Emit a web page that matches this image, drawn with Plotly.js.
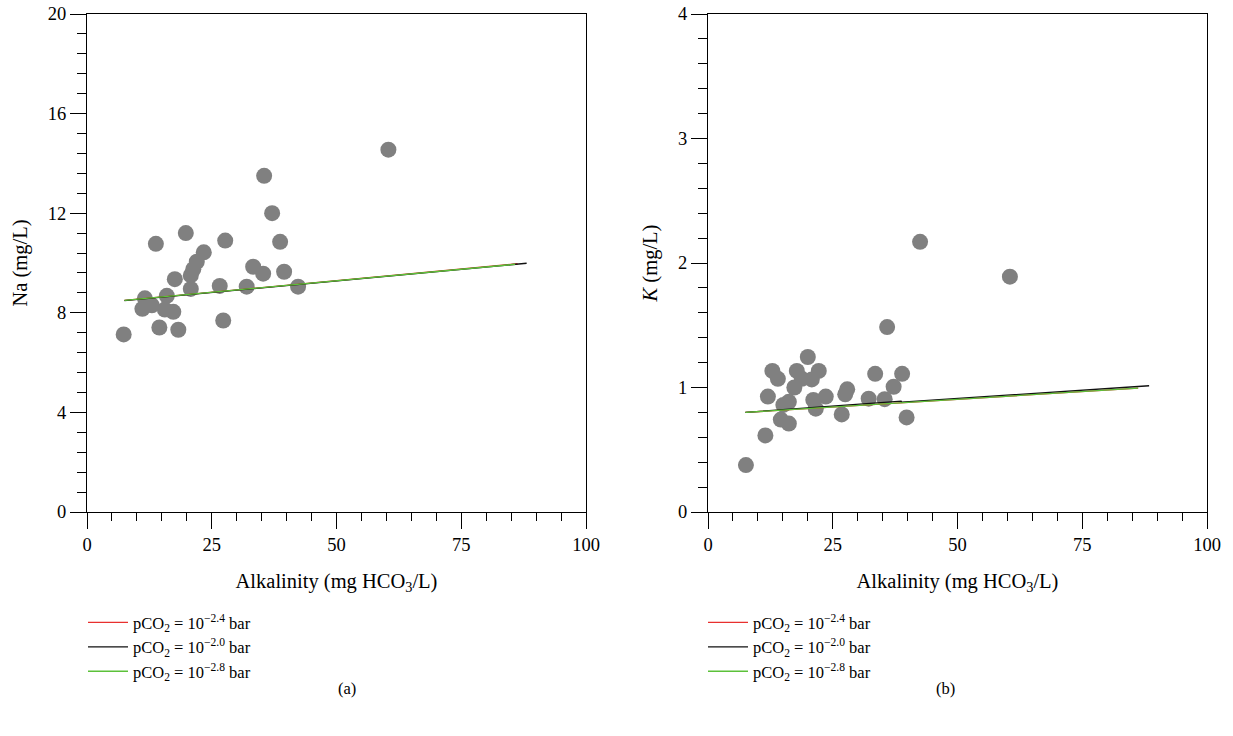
<!DOCTYPE html>
<html>
<head>
<meta charset="utf-8">
<script src="https://cdn.plot.ly/plotly-3.0.1.min.js"></script>
<style>html,body{margin:0;padding:0;background:#fff;}#chart{width:1233px;height:736px;}</style>
</head>
<body>
<div id="chart"></div>
<script>
// Panel (a): Na vs alkalinity
const naAlk = [60.4, 35.5, 37.1, 38.7, 39.5, 42.3, 33.3, 35.3, 32.0, 27.7, 26.6, 27.3, 19.8, 13.8, 23.4, 22.0, 21.3, 20.8, 17.6, 20.8, 11.6, 16.0, 11.1, 13.0, 15.6, 17.3, 14.5, 18.3, 7.35];
const naVal = [14.55, 13.5, 12.0, 10.85, 9.65, 9.05, 9.85, 9.57, 9.05, 10.9, 9.08, 7.69, 11.2, 10.77, 10.43, 10.05, 9.75, 9.5, 9.35, 8.96, 8.58, 8.68, 8.16, 8.3, 8.13, 8.04, 7.41, 7.32, 7.13];
// Panel (b): K vs alkalinity
const kAlk = [7.6, 11.5, 12.0, 12.9, 14.0, 14.6, 15.1, 16.2, 16.2, 17.3, 17.8, 18.8, 20.0, 20.8, 21.1, 21.6, 22.2, 23.6, 26.8, 27.5, 27.9, 32.2, 33.5, 35.4, 35.9, 37.2, 38.9, 39.8, 42.5, 60.5];
const kVal = [0.377, 0.615, 0.927, 1.133, 1.07, 0.742, 0.86, 0.71, 0.885, 1.0, 1.133, 1.07, 1.245, 1.065, 0.9, 0.83, 1.133, 0.927, 0.784, 0.945, 0.985, 0.91, 1.11, 0.906, 1.485, 1.006, 1.11, 0.76, 2.17, 1.89];

// Equilibrium curves, panel (a)
const naRedX = [7.5, 86.3], naRedY = [8.5, 9.97];
const naBlackX = [7.5, 88.1], naBlackY = [8.49, 9.99];
const naGreenX = [7.5, 85.8], naGreenY = [8.5, 9.95];
// Equilibrium curves, panel (b)
const kRedX = [7.5, 86.2], kRedY = [0.80, 0.995];
const kBlackX = [7.5, 38.7, 38.8, 88.4], kBlackY = [0.80, 0.89, 0.883, 1.014];
const kGreenX = [7.5, 86.2], kGreenY = [0.80, 0.995];

const legendNames = [
  'pCO<sub>2</sub> = 10<sup>−2.4</sup> bar',
  'pCO<sub>2</sub> = 10<sup>−2.0</sup> bar',
  'pCO<sub>2</sub> = 10<sup>−2.8</sup> bar'
];
const lineColors = ['#e8302e', '#111111', '#5cc13a'];
const xTicks = [0, 25, 50, 75, 100];
const naTicks = [0, 4, 8, 12, 16, 20];
const kTicks = [0, 1, 2, 3, 4];

const FONT = 'Liberation Serif, DejaVu Serif, Noto Serif';
const marker = {color: '#808080', size: 16, line: {width: 0}};

function lineTrace(x, y, i, xa, ya, lg) {
  return {x: x, y: y, type: 'scatter', mode: 'lines', name: legendNames[i],
          line: {color: lineColors[i], width: 1.3}, xaxis: xa, yaxis: ya, legend: lg};
}

const traces = [
  {x: naAlk, y: naVal, type: 'scatter', mode: 'markers', marker: marker, showlegend: false, xaxis: 'x', yaxis: 'y'},
  lineTrace(naRedX, naRedY, 0, 'x', 'y', 'legend'),
  lineTrace(naBlackX, naBlackY, 1, 'x', 'y', 'legend'),
  lineTrace(naGreenX, naGreenY, 2, 'x', 'y', 'legend'),
  {x: kAlk, y: kVal, type: 'scatter', mode: 'markers', marker: marker, showlegend: false, xaxis: 'x2', yaxis: 'y2'},
  lineTrace(kRedX, kRedY, 0, 'x2', 'y2', 'legend2'),
  lineTrace(kBlackX, kBlackY, 1, 'x2', 'y2', 'legend2'),
  lineTrace(kGreenX, kGreenY, 2, 'x2', 'y2', 'legend2')
];

function xAxis(domain, anchor) {
  return {
    domain: domain, anchor: anchor, range: [0, 100], tickvals: xTicks, ticktext: xTicks.map(String),
    ticks: 'outside', ticklen: 16, tickwidth: 1, tickcolor: '#000',
    minor: {dtick: 5, tick0: 0, ticks: 'outside', ticklen: 8, tickwidth: 1, tickcolor: '#000'},
    showline: true, linecolor: '#000', linewidth: 1, mirror: true,
    showgrid: false, zeroline: false,
    tickfont: {family: FONT, size: 18.5, color: '#000'},
    title: {text: 'Alkalinity (mg HCO<sub>3</sub>/L)', font: {family: FONT, size: 20.5, color: '#000'}, standoff: 19}
  };
}
function yAxis(domain, anchor, rng, tv, mdt, title) {
  return {
    domain: domain, anchor: anchor, range: rng, tickvals: tv, ticktext: tv.map(String),
    ticks: 'outside', ticklen: 16, tickwidth: 1, tickcolor: '#000',
    minor: {dtick: mdt, tick0: 0, ticks: 'outside', ticklen: 9, tickwidth: 1, tickcolor: '#000'},
    showline: true, linecolor: '#000', linewidth: 1, mirror: true,
    showgrid: false, zeroline: false,
    tickfont: {family: FONT, size: 18.5, color: '#000'},
    title: {text: title, font: {family: FONT, size: 20.5, color: '#000'}, standoff: 14}
  };
}

const legendCommon = {
  font: {family: FONT, size: 16.5, color: '#000'}, bgcolor: 'rgba(0,0,0,0)', borderwidth: 0,
  yanchor: 'top', xanchor: 'left', tracegroupgap: 0, itemwidth: 40
};

const layout = {
  width: 1233, height: 736,
  margin: {l: 0, r: 0, t: 14, b: 224},
  paper_bgcolor: '#fff', plot_bgcolor: '#fff',
  showlegend: true,
  xaxis: xAxis([87/1233, 586/1233], 'y'),
  yaxis: yAxis([0, 1], 'x', [0, 20], naTicks, 0.8, 'Na (mg/L)'),
  xaxis2: xAxis([708/1233, 1207/1233], 'y2'),
  yaxis2: yAxis([0, 1], 'x2', [0, 4], kTicks, 0.2, '<i>K</i> (mg/L)'),
  legend: Object.assign({x: 83/1233, y: -0.187}, legendCommon),
  legend2: Object.assign({x: 703/1233, y: -0.187}, legendCommon),
  annotations: [
    {text: '(a)', xref: 'paper', yref: 'paper', x: 336/1233, y: (512-688)/498, yanchor: 'middle', showarrow: false,
     font: {family: FONT, size: 16.5, color: '#000'}},
    {text: '(b)', xref: 'paper', yref: 'paper', x: 957/1233, y: (512-688)/498, yanchor: 'middle', showarrow: false,
     font: {family: FONT, size: 16.5, color: '#000'}}
  ]
};

Plotly.newPlot('chart', traces, layout, {displayModeBar: false, staticPlot: true});
</script>
</body>
</html>
